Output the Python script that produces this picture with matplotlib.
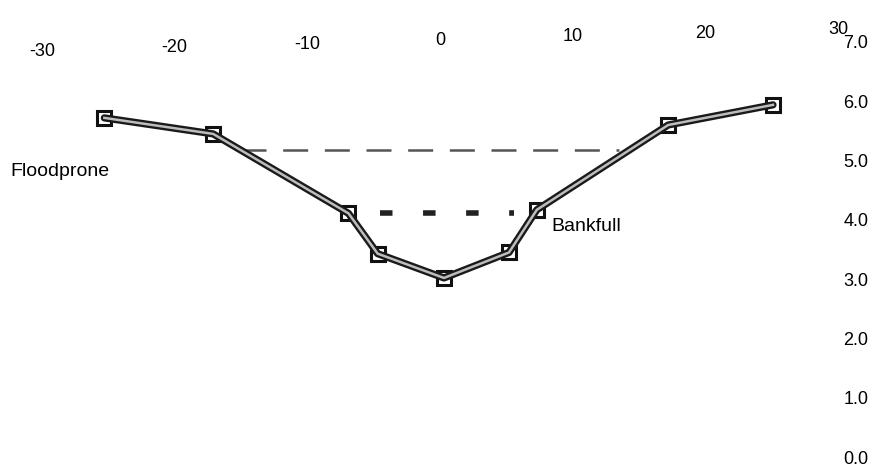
import numpy as np
import matplotlib
matplotlib.use('Agg')
import matplotlib.pyplot as plt
from matplotlib.transforms import ScaledTranslation

plt.rcParams['font.family'] = ['Liberation Sans', 'DejaVu Sans']
plt.rcParams['lines.scale_dashes'] = False

# cross-section survey: station (ft) vs elevation (ft)
station = [-25.3, -17.1, -6.9, -4.7, 0.3, 5.2, 7.3, 17.2, 25.1]
elevation = [5.72, 5.45, 4.11, 3.43, 3.02, 3.45, 4.17, 5.60, 5.94]

# water levels
floodprone_x = [-15.0, 13.5]
floodprone_y = 5.18
bankfull_x = [-4.5, 5.6]
bankfull_y = 4.12

xticks = [-30, -20, -10, 0, 10, 20, 30]
yticks = [0, 1, 2, 3, 4, 5, 6, 7]

fig = plt.figure(figsize=(8.85, 4.66), dpi=100)
ax = fig.add_axes([42 / 885, 9 / 466, (838 - 42) / 885, (457 - 42) / 466])

# surveyed ground line: dark outline with light core
ax.plot(station, elevation, color='#1a1a1a', lw=5.2, zorder=3, solid_capstyle='round')
ax.plot(station, elevation, color='#bdbdbd', lw=1.8, zorder=4)
ax.plot(station, elevation, ls='none', marker='s', ms=10.5, mfc='white', mec='#111111',
        mew=2.2, zorder=2)

# floodprone and bankfull levels
ax.plot(floodprone_x, [floodprone_y] * 2, color='#555555', lw=1.8, dashes=(18, 12), zorder=1)
ax.plot(bankfull_x, [bankfull_y] * 2, color='#222222', lw=4, dashes=(9, 22), zorder=1)

ax.text(-32.4, 4.82, 'Floodprone', fontsize=14, va='center', ha='left')
ax.text(8.4, 3.89, 'Bankfull', fontsize=14, va='center', ha='left')

ax.set_xlim(-30, 30)
ax.set_ylim(0, 7)
for s in ax.spines.values():
    s.set_visible(False)

ax.xaxis.tick_top()
ax.set_xticks(xticks)
ax.set_xticklabels([str(v) for v in xticks])
ax.yaxis.tick_right()
ax.set_yticks(yticks)
ax.set_yticklabels([f'{v:.1f}' for v in yticks])
ax.tick_params(axis='both', length=0, labelsize=13)
ax.tick_params(axis='x', pad=0)
ax.tick_params(axis='y', pad=4)

# scanned page is slightly tilted: shift top labels accordingly
for v, lab in zip(xticks, ax.get_xticklabels()):
    dy = -(7 - 0.367 * v) / 100.0
    lab.set_transform(lab.get_transform() + ScaledTranslation(0, dy, fig.dpi_scale_trans))

fig.savefig('out.png', dpi=100)
